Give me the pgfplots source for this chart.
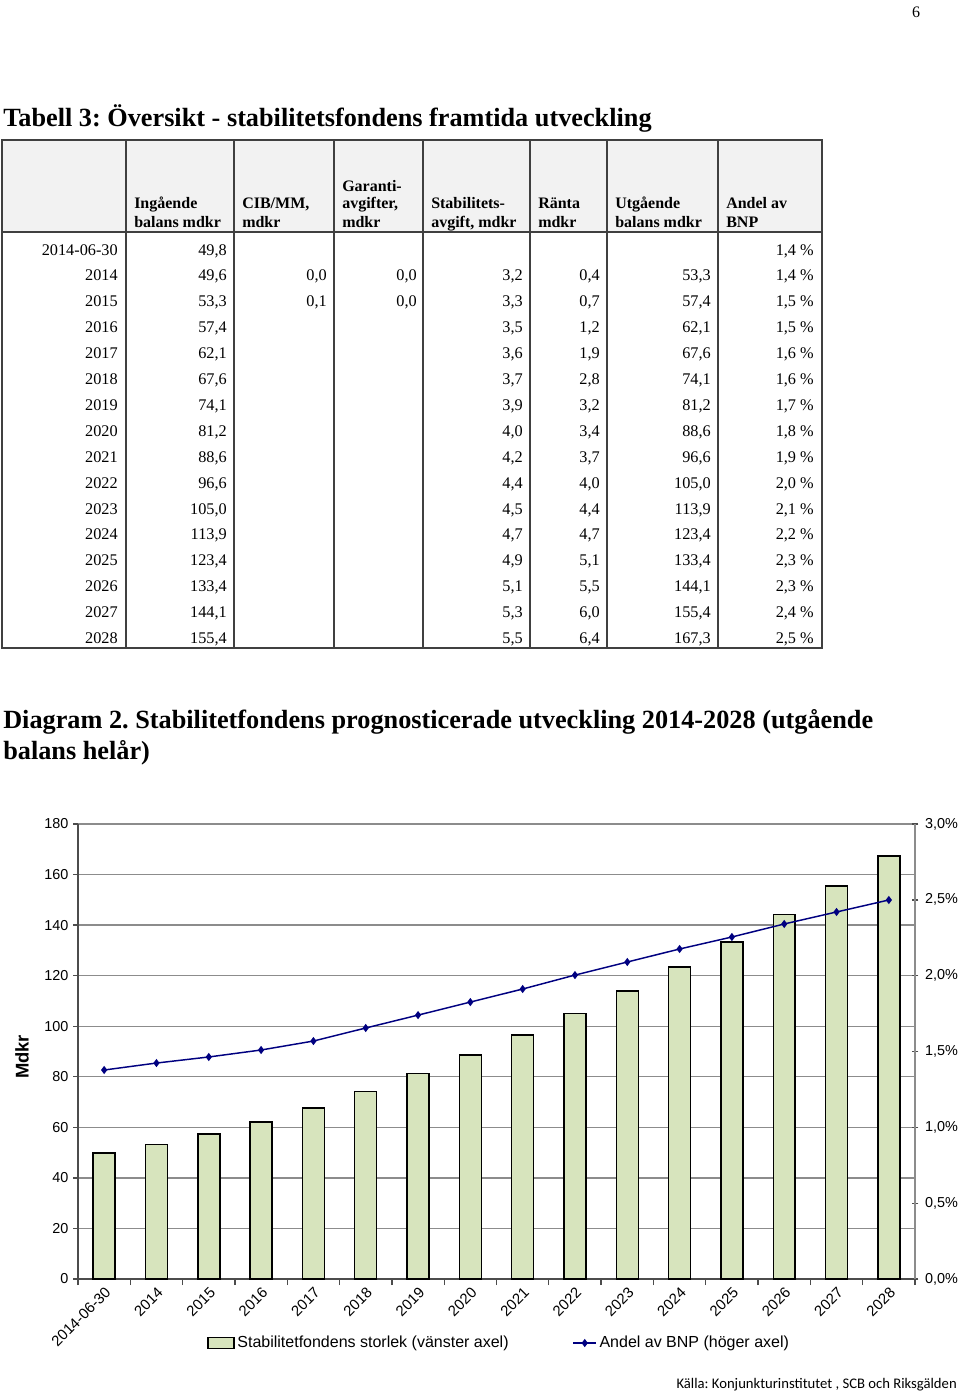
\documentclass[border=0pt]{standalone}
\usepackage{pgfplots}
\pgfplotsset{compat=1.18}
\usepackage{fontspec}
\setmainfont{Liberation Serif}
\newfontfamily\arial{Liberation Sans}
\newfontfamily\calibri{Carlito}
\definecolor{barGreen}{HTML}{D7E4BD}
\definecolor{navy}{HTML}{000080}
\definecolor{hdr}{HTML}{F2F2F2}
\definecolor{gridgray}{HTML}{8C8C8C}
\definecolor{tline}{HTML}{404040}
\frenchspacing

\newcommand{\trow}[9]{%
  \pgfmathsetmacro{\yb}{255+25.9*#1}%
  \node[anchor=base east] at (118,\yb) {#2};
  \node[anchor=base east] at (227,\yb) {#3};
  \node[anchor=base east] at (327,\yb) {#4};
  \node[anchor=base east] at (417,\yb) {#5};
  \node[anchor=base east] at (523,\yb) {#6};
  \node[anchor=base east] at (600,\yb) {#7};
  \node[anchor=base east] at (711,\yb) {#8};
  \node[anchor=base east] at (814,\yb) {#9};
}

\begin{document}
\begin{tikzpicture}[x=0.75pt,y=-0.75pt]
\useasboundingbox (0,0) rectangle (960,1391);

% page number
\node[anchor=base, inner sep=0pt, font=\fontsize{12}{14}\selectfont] at (916,18) {6};

% table title
\node[anchor=base west, inner sep=0pt, font=\bfseries\fontsize{19.7}{22}\selectfont] at (3,127) {Tabell 3: Översikt - stabilitetsfondens framtida utveckling};

% table frame
\fill[hdr] (2,140) rectangle (822,232);
\draw[tline, line width=1.1pt] (2,140) rectangle (822,648);
\draw[tline, line width=1.1pt] (2,232) -- (822,232);
\foreach \xx in {126,234,334,423,530,607,718} {
  \draw[tline, line width=1.1pt] (\xx,140) -- (\xx,648);
}

% header
\begin{scope}[every node/.style={anchor=base west, inner sep=0pt, font=\bfseries\fontsize{12}{14}\selectfont}]
\node at (134,209) {Ingående};      \node at (134,227) {balans mdkr};
\node at (242,209) {CIB/MM,};       \node at (242,227) {mdkr};
\node at (342,191) {Garanti-};      \node at (342,209) {avgifter,};  \node at (342,227) {mdkr};
\node at (431,209) {Stabilitets-};  \node at (431,227) {avgift, mdkr};
\node at (538,209) {Ränta};         \node at (538,227) {mdkr};
\node at (615,209) {Utgående};      \node at (615,227) {balans mdkr};
\node at (726,209) {Andel av};      \node at (726,227) {BNP};
\end{scope}

% body
\begin{scope}[every node/.style={inner sep=0pt, font=\fontsize{12.2}{14}\selectfont}]
\trow{0}{2014-06-30}{49,8}{}{}{}{}{}{1,4 \%}
\trow{1}{2014}{49,6}{0,0}{0,0}{3,2}{0,4}{53,3}{1,4 \%}
\trow{2}{2015}{53,3}{0,1}{0,0}{3,3}{0,7}{57,4}{1,5 \%}
\trow{3}{2016}{57,4}{}{}{3,5}{1,2}{62,1}{1,5 \%}
\trow{4}{2017}{62,1}{}{}{3,6}{1,9}{67,6}{1,6 \%}
\trow{5}{2018}{67,6}{}{}{3,7}{2,8}{74,1}{1,6 \%}
\trow{6}{2019}{74,1}{}{}{3,9}{3,2}{81,2}{1,7 \%}
\trow{7}{2020}{81,2}{}{}{4,0}{3,4}{88,6}{1,8 \%}
\trow{8}{2021}{88,6}{}{}{4,2}{3,7}{96,6}{1,9 \%}
\trow{9}{2022}{96,6}{}{}{4,4}{4,0}{105,0}{2,0 \%}
\trow{10}{2023}{105,0}{}{}{4,5}{4,4}{113,9}{2,1 \%}
\trow{11}{2024}{113,9}{}{}{4,7}{4,7}{123,4}{2,2 \%}
\trow{12}{2025}{123,4}{}{}{4,9}{5,1}{133,4}{2,3 \%}
\trow{13}{2026}{133,4}{}{}{5,1}{5,5}{144,1}{2,3 \%}
\trow{14}{2027}{144,1}{}{}{5,3}{6,0}{155,4}{2,4 \%}
\trow{15}{2028}{155,4}{}{}{5,5}{6,4}{167,3}{2,5 \%}
\end{scope}

% diagram title
\node[anchor=base west, inner sep=0pt, font=\bfseries\fontsize{19.7}{22}\selectfont] at (3,728) {Diagram 2. Stabilitetfondens prognosticerade utveckling 2014-2028 (utgående};
\node[anchor=base west, inner sep=0pt, font=\bfseries\fontsize{19.7}{22}\selectfont] at (3,759) {balans helår)};

% y label
\node[rotate=90, inner sep=0pt, font=\arial\bfseries\fontsize{13.8}{16}\selectfont] at (22,1057) {Mdkr};

% chart: bars (left axis)
\begin{axis}[
  at={(58.5pt,-959.25pt)}, anchor=south west,
  scale only axis, width=627.75pt, height=341.25pt,
  xmin=-0.5, xmax=15.5, ymin=0, ymax=180,
  axis x line*=bottom, axis y line*=left,
  axis line style={draw=black!70, line width=1pt, -},
  every outer x axis line/.append style={-},
  every outer y axis line/.append style={-},
  ytick={0,20,...,180},
  ymajorgrids, grid style={draw=gridgray, line width=1pt},
  xtick={0,...,15},
  xticklabels={2014-06-30,2014,2015,2016,2017,2018,2019,2020,2021,2022,2023,2024,2025,2026,2027,2028},
  major x tick style={draw=none},
  minor xtick={-0.5,0.5,...,15.5},
  minor x tick style={draw=black!70, line width=1pt},
  major y tick style={draw=black!70, line width=1pt},
  tick align=outside,
  minor tick length=4.5pt, major tick length=3.75pt,
  /pgf/number format/assume math mode=true,
  tick label style={font=\arial\fontsize{10.8}{12}\selectfont},
  xticklabel style={rotate=45, anchor=north east, inner sep=1pt, font=\arial\fontsize{11.2}{12}\selectfont},
]
\addplot[ybar, bar width=0.42, fill=barGreen, draw=black, line width=1.1pt] coordinates {
(0,49.8) (1,53.3) (2,57.4) (3,62.1) (4,67.6) (5,74.1) (6,81.2) (7,88.6)
(8,96.6) (9,105.0) (10,113.9) (11,123.4) (12,133.4) (13,144.1) (14,155.4) (15,167.3)
};
\end{axis}

% chart: line (right axis)
\begin{axis}[
  at={(58.5pt,-959.25pt)}, anchor=south west,
  scale only axis, width=627.75pt, height=341.25pt,
  xmin=-0.5, xmax=15.5, ymin=0, ymax=3,
  axis y line*=right, axis x line=none,
  axis line style={draw=gridgray, line width=1pt, -},
  every outer y axis line/.append style={-},
  ytick={0,0.5,...,3},
  yticklabel={\pgfmathprintnumber[fixed,fixed zerofill,precision=1,use comma,assume math mode=true]{\tick}\%},
  major y tick style={draw=black!70, line width=1pt},
  tick align=center, major tick length=5pt,
  tick label style={font=\arial\fontsize{10.8}{12}\selectfont},
  yticklabel style={xshift=1.5pt},
  legend style={at={(0.5036,-0.1407)}, anchor=center, draw=none, fill=none,
    legend columns=2, font=\arial\fontsize{12}{14}\selectfont,
    /tikz/every even column/.append style={column sep=46pt}},
  legend cell align=left,
]
\addlegendimage{legend image code/.code={\draw[fill=barGreen, draw=black, line width=1pt] (0pt,-4pt) rectangle (19.5pt,4pt);}}
\addlegendentry{Stabilitetfondens storlek (vänster axel)}
\addplot[navy, line width=1.1pt, mark=diamond*, mark size=2.2pt, mark options={fill=navy, draw=navy}] coordinates {
(0,1.378) (1,1.424) (2,1.464) (3,1.510) (4,1.569) (5,1.655) (6,1.740) (7,1.826)
(8,1.912) (9,2.004) (10,2.090) (11,2.176) (12,2.255) (13,2.341) (14,2.420) (15,2.499)
};
\addlegendentry{Andel av BNP (höger axel)}
\end{axis}

% source
\node[anchor=base east, inner sep=0pt, font=\calibri\fontsize{11}{12}\selectfont] at (957,1388) {Källa: Konjunkturinstitutet , SCB och Riksgälden};

\end{tikzpicture}
\end{document}
